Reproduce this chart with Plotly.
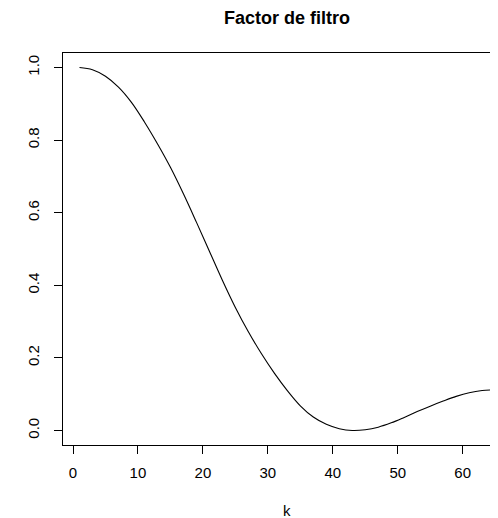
import plotly.graph_objects as go

k_values = [1, 3, 5, 7, 9, 11, 13, 15, 17, 19, 21, 23, 25, 27, 29, 31, 33,
            35, 37, 39, 41, 43, 45, 47, 49, 51, 53, 55, 57, 59, 61, 63, 65]
filter_factor = [1.000, 0.994, 0.976, 0.946, 0.904, 0.850, 0.790, 0.725,
                 0.652, 0.574, 0.494, 0.414, 0.339, 0.272, 0.212, 0.158,
                 0.110, 0.068, 0.037, 0.017, 0.005, 0.000, 0.002, 0.009,
                 0.021, 0.036, 0.052, 0.067, 0.081, 0.094, 0.104, 0.110, 0.112]
x_ticks = [0, 10, 20, 30, 40, 50, 60]
y_ticks = [0.0, 0.2, 0.4, 0.6, 0.8, 1.0]
y_tick_labels = ["0.0", "0.2", "0.4", "0.6", "0.8", "1.0"]

FONT = "Liberation Sans, Arial, Helvetica, sans-serif"

# page body adds an 8px offset; figure is sized to the visible window
W, H = 490, 510
L, T, B = 55, 45, 73
plot_w = W - L
plot_h = H - T - B

fig = go.Figure()
fig.add_trace(go.Scatter(
    x=k_values, y=filter_factor, mode="lines",
    line=dict(color="black", width=1.1, shape="spline", smoothing=1.0),
    showlegend=False, hoverinfo="skip",
))

fig.update_layout(
    width=W, height=H,
    margin=dict(l=L, r=0, t=T, b=B, pad=0),
    paper_bgcolor="white", plot_bgcolor="white",
    font=dict(family=FONT, size=15, color="black"),
    title=dict(text="<b>Factor de filtro</b>", x=279 / W, xref="container",
               xanchor="center", y=1 - 3 / H, yref="container",
               yanchor="top", pad=dict(t=0, b=0, l=0, r=0),
               font=dict(size=18, family=FONT, color="black")),
    xaxis=dict(range=[-1.54, 65.44], tickvals=x_ticks, ticks="outside",
               ticklen=8, tickwidth=1, tickcolor="black",
               showline=True, linecolor="black", linewidth=1, mirror=True,
               showgrid=False, zeroline=False, ticklabelstandoff=6,
               tickfont=dict(size=15, family=FONT)),
    yaxis=dict(range=[-0.04, 1.04], tickvals=y_ticks, ticktext=y_tick_labels,
               ticks="outside", ticklen=8, tickwidth=1, tickcolor="black",
               showline=True, linecolor="black", linewidth=1,
               showgrid=False, zeroline=False, tickangle=-90,
               ticklabelstandoff=9, tickfont=dict(size=15, family=FONT)),
    annotations=[dict(text="k", xref="paper", yref="paper",
                      x=(279 - L) / plot_w, y=-(503 - (H - B)) / plot_h,
                      xanchor="center", yanchor="middle", showarrow=False,
                      font=dict(size=15, family=FONT, color="black"))],
)

fig.write_html("out.html")
